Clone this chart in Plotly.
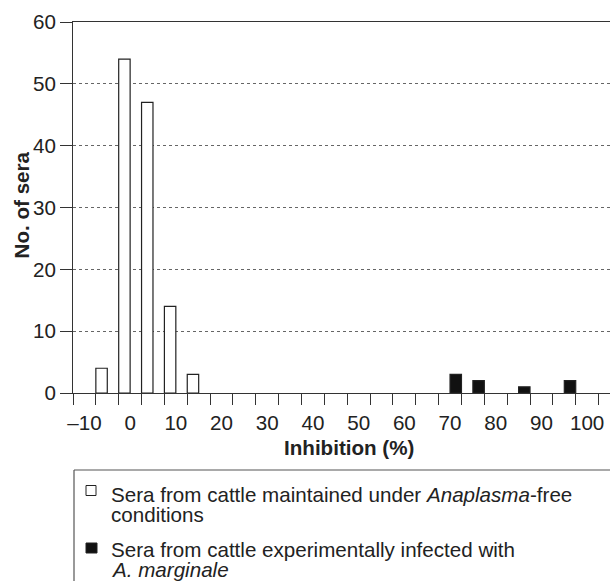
import plotly.graph_objects as go

# ---- data ----
bin_centers_free = [-5, 0, 5, 10, 15]
counts_free = [4, 54, 47, 14, 3]
bin_centers_infected = [70, 75, 85, 95]
counts_infected = [3, 2, 1, 2]
x_tick_values = [-10, 0, 10, 20, 30, 40, 50, 60, 70, 80, 90, 100]
x_tick_labels = ["\u201310", "0", "10", "20", "30", "40", "50", "60", "70", "80", "90", "100"]
y_tick_values = [0, 10, 20, 30, 40, 50, 60]
legend_free = ["Sera from cattle maintained under <i>Anaplasma</i>-free", "conditions"]
legend_infected = ["Sera from cattle experimentally infected with", "<i>A. marginale</i>"]
x_title = "<b>Inhibition (%)</b>"
y_title = "<b>No. of sera</b>"

W, H = 610, 581
L, R, T, B = 73, 0, 22, 188
PW, PH = W - L - R, H - T - B
FONT = "Liberation Sans, Arial, sans-serif"
INK = "#222222"
BIN = 5.0
FS = 20.6


def xp(px):
    return (px - L) / PW


def yp(py):
    return (H - B - py) / PH


fig = go.Figure()
# each 5-unit bin: uninfected sera in the left half, infected sera in the right half
fig.add_bar(x=bin_centers_free, y=counts_free, name="free",
            width=BIN / 2, offset=-BIN / 2,
            marker=dict(color="white", line=dict(color=INK, width=1.2)),
            showlegend=False)
fig.add_bar(x=bin_centers_infected, y=counts_infected, name="infected",
            width=BIN / 2, offset=0,
            marker=dict(color="#111111", line=dict(color=INK, width=1.2)),
            showlegend=False)

fig.update_layout(
    width=W, height=H,
    margin=dict(l=L, r=R, t=T, b=B, pad=0, autoexpand=False),
    paper_bgcolor="white", plot_bgcolor="white",
    barmode="overlay",
    font=dict(family=FONT, size=FS, color=INK),
    showlegend=False,
)
fig.update_xaxes(
    range=[-12.5, 105.0], automargin=False,
    tickmode="array", tickvals=x_tick_values, ticktext=x_tick_labels,
    ticks="outside", ticklen=11, tickcolor="rgba(0,0,0,0)",
    minor=dict(tick0=-12.5, dtick=5, ticks="outside", ticklen=11,
               tickcolor="#333333", tickwidth=1, showgrid=False),
    showline=True, linecolor="#333333", linewidth=1, mirror=True,
    showgrid=False, zeroline=False,
    tickfont=dict(size=FS, color=INK),
)
fig.update_yaxes(
    range=[0, 60], automargin=False,
    tickmode="array", tickvals=y_tick_values,
    ticks="outside", ticklen=12, tickcolor="#333333",
    showline=True, linecolor="#333333", linewidth=1,
    showgrid=True, gridcolor="#666666", griddash="dot", gridwidth=1,
    zeroline=False,
    tickfont=dict(size=FS, color=INK),
)

annotations = [
    dict(text=x_title, x=xp(348.5), y=yp(447), xref="paper", yref="paper",
         xanchor="center", yanchor="middle", showarrow=False,
         font=dict(size=FS, color=INK)),
    dict(text=y_title, x=xp(21.4), y=yp(205), xref="paper", yref="paper",
         xanchor="center", yanchor="middle", showarrow=False, textangle=-90,
         font=dict(size=FS, color=INK)),
]
for lines, baselines in ((legend_free, (500, 520)), (legend_infected, (555, 575))):
    for txt, bl in zip(lines, baselines):
        annotations.append(dict(text=txt, x=xp(109), y=yp(bl - 6), xref="paper", yref="paper",
                                xanchor="left", yanchor="middle", showarrow=False,
                                font=dict(size=FS, color=INK)))
fig.update_layout(annotations=annotations)

shapes = [
    # legend box (top and left edges; the box continues past the page edge)
    dict(type="line", xref="paper", yref="paper", x0=xp(74), x1=xp(W + 5), y0=yp(470), y1=yp(470),
         line=dict(color="#555555", width=1.2)),
    dict(type="line", xref="paper", yref="paper", x0=xp(74), x1=xp(74), y0=yp(470), y1=yp(H + 5),
         line=dict(color="#555555", width=1.2)),
    # legend swatches
    dict(type="rect", xref="paper", yref="paper", x0=xp(86), x1=xp(96), y0=yp(485.5), y1=yp(495.5),
         fillcolor="white", line=dict(color=INK, width=1)),
    dict(type="rect", xref="paper", yref="paper", x0=xp(86), x1=xp(97), y0=yp(543), y1=yp(553),
         fillcolor="#111111", line=dict(color=INK, width=1)),
]
fig.update_layout(shapes=shapes)

fig.write_html("out.html",
               config={"displayModeBar": False},
               post_script="document.body.style.margin='0';document.body.style.padding='0';")
